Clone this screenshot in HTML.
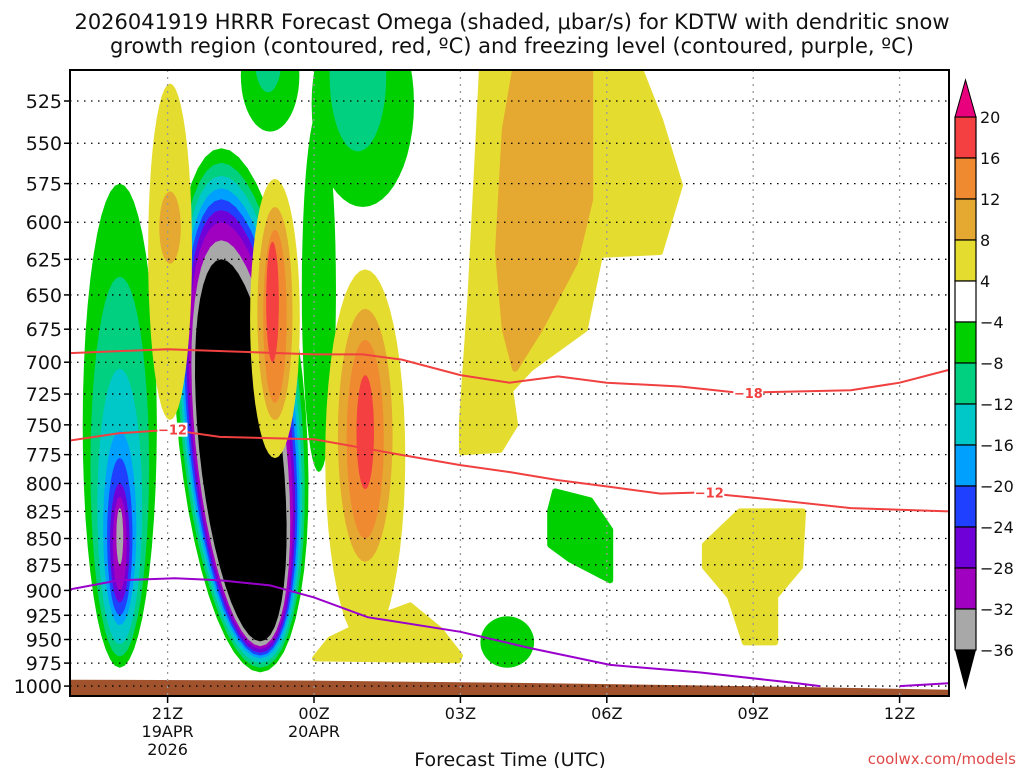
<!DOCTYPE html>
<html><head><meta charset="utf-8"><style>
body{margin:0;background:#fff;}
svg text{font-family:"DejaVu Sans","Liberation Sans",sans-serif;}
</style></head><body>
<svg id="chart" width="1024" height="768" xmlns="http://www.w3.org/2000/svg">
<rect width="1024" height="768" fill="#fff"/>
<text x="512" y="29" font-size="21" text-anchor="middle" fill="#111">2026041919 HRRR Forecast Omega (shaded, μbar/s) for KDTW with dendritic snow</text>
<text x="512" y="53" font-size="21" text-anchor="middle" fill="#111">growth region (contoured, red, ºC) and freezing level (contoured, purple, ºC)</text>
<defs><clipPath id="pc"><rect x="70" y="70" width="879" height="626"/></clipPath></defs>
<g id="fills" clip-path="url(#pc)"></g>
<g id="grid"></g>
<g id="lines" clip-path="url(#pc)"></g>
<rect x="70" y="70" width="879" height="626" fill="none" stroke="#000" stroke-width="2"/>
<g id="axes"></g>
<g id="cbar"></g>
<text x="510" y="766" font-size="19" text-anchor="middle" fill="#111">Forecast Time (UTC)</text>
<text x="1016" y="764" font-size="15" text-anchor="end" fill="#e04848">coolwx.com/models</text>
</svg>
<script>
// ---- data ----
const pressureTicks=[525,550,575,600,625,650,675,700,725,750,775,800,825,850,875,900,925,950,975,1000];
const timeTickHours=[2,5,8,11,14,17];
const timeTickLabels=[["21Z","19APR","2026"],["00Z","20APR"],["03Z"],["06Z"],["09Z"],["12Z"]];
const cbarLabels=["20","16","12","8","4","−4","−8","−12","−16","−20","−24","−28","−32","−36"];
const cbarColors=["#f44040","#f08a30","#e5a830","#e5dc30","#ffffff","#00d000","#00d080","#00c8c8","#00a0ff","#2040ff","#7000d8","#a000c0","#a8a8a8"];
// ellipse blobs: [centerHour, halfWidthHours, pTop, pBottom, skewHours, color]
const blobsNeg=[
[1.02,.76,575,980,0,"#00d000"],[1.02,.6,637,968,0,"#00d080"],[1.02,.46,705,955,0,"#00c8c8"],[1.02,.34,755,935,0,"#00a0ff"],[1.02,.26,778,925,0,"#2040ff"],[1.02,.2,800,912,0,"#7000d8"],[1.02,.14,812,900,0,"#a000c0"],[1.02,.07,822,875,0,"#a8a8a8"],
[3.1,1.33,553,985,.8,"#00d000"],[3.1,1.25,562,980,.8,"#00d080"],[3.1,1.19,570,975,.8,"#00c8c8"],[3.1,1.14,578,970,.8,"#00a0ff"],[3.1,1.09,585,967,.8,"#2040ff"],[3.1,1.04,592,964,.8,"#7000d8"],[3.1,.99,600,960,.8,"#a000c0"],[3.1,.93,612,957,.8,"#a8a8a8"],[3.1,.85,625,952,.8,"#000000"],
[4.1,.6,480,543,0,"#00d000"],[4.06,.28,480,520,0,"#00d080"],
[6.0,1.05,470,590,0,"#00d000"],[5.1,.35,530,790,0,"#00d000"],[5.9,.58,470,555,0,"#00d080"],
[8.96,.55,926,980,0,"#00d000"]
];
const blobsPos=[
[2.05,.45,515,746,0,"#e5dc30"],[2.05,.22,580,628,0,"#e5a830"],
[4.2,.51,572,778,0,"#e5dc30"],[4.2,.36,590,746,0,"#e5a830"],[4.2,.24,605,732,0,"#f08a30"],[4.15,.13,613,700,0,"#f44040"],
[6.05,.82,632,955,0,"#e5dc30"],[6.05,.56,660,872,0,"#e5a830"],[6.05,.38,683,850,0,"#f08a30"],[6.05,.18,710,805,0,"#f44040"]
];
// polygon regions in (hour, pressure)
const yellowLowH=[5.02,5.33,6.15,6.97,7.58,7.99,7.95];
const yellowLowP=[970,950,930,915,940,967,972];
const yellowBigH=[8.44,11.68,12.09,12.5,12.09,10.86,10.55,9.43,9.02,9.12,8.81,8.03,8.03,8.2,8.36];
const yellowBigP=[507,507,536,576,620,622,675,705,722,750,771,773,747,655,554];
const orangeBigH=[9.12,10.66,10.66,10.35,9.63,9.12,8.91,8.77,8.91];
const orangeBigP=[507,507,585,627,675,705,675,620,542];
const greenSmallH=[9.94,10.66,11.07,11.07,10.25,9.84,9.84];
const greenSmallP=[807,815,842,890,870,856,824];
const yellowRightH=[13.01,13.73,15.02,14.96,14.45,14.45,13.83,13.52,13.01];
const yellowRightP=[856,825,825,877,906,953,953,906,877];
const groundHours=[0,5,10,15,18];
const groundP=[993,994,997,1001,1004];
// contour lines
const dgz18H=[0,2,5,6,6.8,8,9,10,11,12.5,13.7,16,17,18];
const dgz18P=[693,690,694,694,698,710,716,711,716,719,724,722,716,706];
const dgz12H=[0,1,2.05,3.07,5,6.76,8,9,10,11.07,12.1,12.9,14.1,16,18];
const dgz12P=[763,757,754,760,762,775,784,790,797,803,809,808,813,822,825];
const frzH=[0,1,2.15,3.07,4.1,5,6.1,8,9.43,11.07,12.9,14.75,15.37];
const frzP=[899,890,888,890,895,907,927,942,959,977,985,996,1000];
const frz2H=[17,18];
const frz2P=[1000,997];
// ---- axes ----
const X=h=>70+h*48.8;
const Y=p=>101+908*Math.log(p/525);
const NS="http://www.w3.org/2000/svg";
function mk(tag,parent,attrs){const e=document.createElementNS(NS,tag);for(const k in attrs)e.setAttribute(k,attrs[k]);parent.appendChild(e);return e;}
const fills=document.getElementById('fills');
function drawBlob(b){
  const [h,hw,pt,pb,sk,col]=b;const yt=Y(pt),yb=Y(pb),cx=X(h),rx=hw*48.8;let d="";
  for(let i=0;i<=48;i++){const t=i/48*2*Math.PI;const y=(yt+yb)/2-(yb-yt)/2*Math.cos(t);const x=cx+sk*48.8*((y-yt)/(yb-yt))+rx*Math.sin(t);d+=(i?"L":"M")+x.toFixed(1)+","+y.toFixed(1);}
  const e=mk('path',fills,{d:d+"Z",fill:col});
  
  
}
function drawPoly(hs,ps,col,name){
  const e=mk('polygon',fills,{points:hs.map((h,i)=>X(h).toFixed(1)+","+Y(ps[i]).toFixed(1)).join(" "),fill:col,"stroke":col,"stroke-width":6,"stroke-linejoin":"round"});
  
  
}
blobsNeg.forEach(drawBlob);
drawPoly(greenSmallH,greenSmallP,"#00d000","omega-region");
drawPoly(yellowLowH,yellowLowP,"#e5dc30","omega-region");
blobsPos.forEach(drawBlob);
drawPoly(yellowBigH,yellowBigP,"#e5dc30","omega-region");
drawPoly(orangeBigH,orangeBigP,"#e5a830","omega-region");
drawPoly(yellowRightH,yellowRightP,"#e5dc30","omega-region");
// ground
{let pts=groundHours.map((h,i)=>X(h)+","+Y(groundP[i])).join(" ");pts+=" "+X(18)+",700 "+X(0)+",700";
const g=mk('polygon',fills,{points:pts,fill:"#a0522d"});

}
// grid + ticks
const grid=document.getElementById('grid'),axes=document.getElementById('axes');
pressureTicks.forEach(p=>{const y=Y(p);
  const l=mk('line',grid,{x1:70,x2:949,y1:y,y2:y,stroke:"#000","stroke-width":1.3,"stroke-dasharray":"1.5,5.5"});
  
  
  mk('line',axes,{x1:64,x2:70,y1:y,y2:y,stroke:"#000","stroke-width":1.5});
  const t=mk('text',axes,{x:62,y:y+7,"font-size":19,"text-anchor":"end",fill:"#111"});t.textContent=p;
  
  
});
timeTickHours.forEach((h,i)=>{const x=X(h);
  const l=mk('line',grid,{x1:x,x2:x,y1:70,y2:696,stroke:"#999","stroke-width":1.3,"stroke-dasharray":"2,5"});
  
  
  mk('line',axes,{x1:x,x2:x,y1:696,y2:703,stroke:"#000","stroke-width":1.5});
  timeTickLabels[i].forEach((s,j)=>{const t=mk('text',axes,{x:x,y:719+j*18,"font-size":16,"text-anchor":"middle",fill:"#111"});t.textContent=s;
    
    });
});
// contour lines
const lines=document.getElementById('lines');
function drawLine(hs,ps,col,name){
  const e=mk('polyline',lines,{points:hs.map((h,i)=>X(h).toFixed(1)+","+Y(ps[i]).toFixed(1)).join(" "),fill:"none",stroke:col,"stroke-width":2});
  
  
}
drawLine(dgz18H,dgz18P,"#f04040","contour-minus18");
drawLine(dgz12H,dgz12P,"#f04040","contour-minus12");
drawLine(frzH,frzP,"#9a00cc","freezing-level");
drawLine(frz2H,frz2P,"#9a00cc","freezing-level");
function lab(h,p,s){const x=X(h),y=Y(p);
  const r=mk('rect',lines,{x:x-15,y:y-7,width:30,height:14,fill:"#fff"});
  const t=mk('text',lines,{x:x,y:y+5,"font-size":13,"font-weight":"bold","text-anchor":"middle",fill:"#f04040"});t.textContent=s;
  
  }
lab(13.9,724,"−18");lab(2.1,754,"−12");lab(13.1,808,"−12");
// colorbar
const cb=document.getElementById('cbar');
cbarColors.forEach((c,i)=>{const r=mk('rect',cb,{x:955,y:117+i*41,width:21,height:41,fill:c,stroke:"#000","stroke-width":1.2});
  
  });
{const a=mk('polygon',cb,{points:"955,117 976,117 965.5,80",fill:"#e8007c",stroke:"#000","stroke-width":1});


const b=mk('polygon',cb,{points:"955,650 976,650 965.5,690",fill:"#000"});

}
cbarLabels.forEach((s,i)=>{const t=mk('text',cb,{x:980,y:123+i*41,"font-size":16,fill:"#111"});t.textContent=s;
  
  });
</script>
</body></html>
